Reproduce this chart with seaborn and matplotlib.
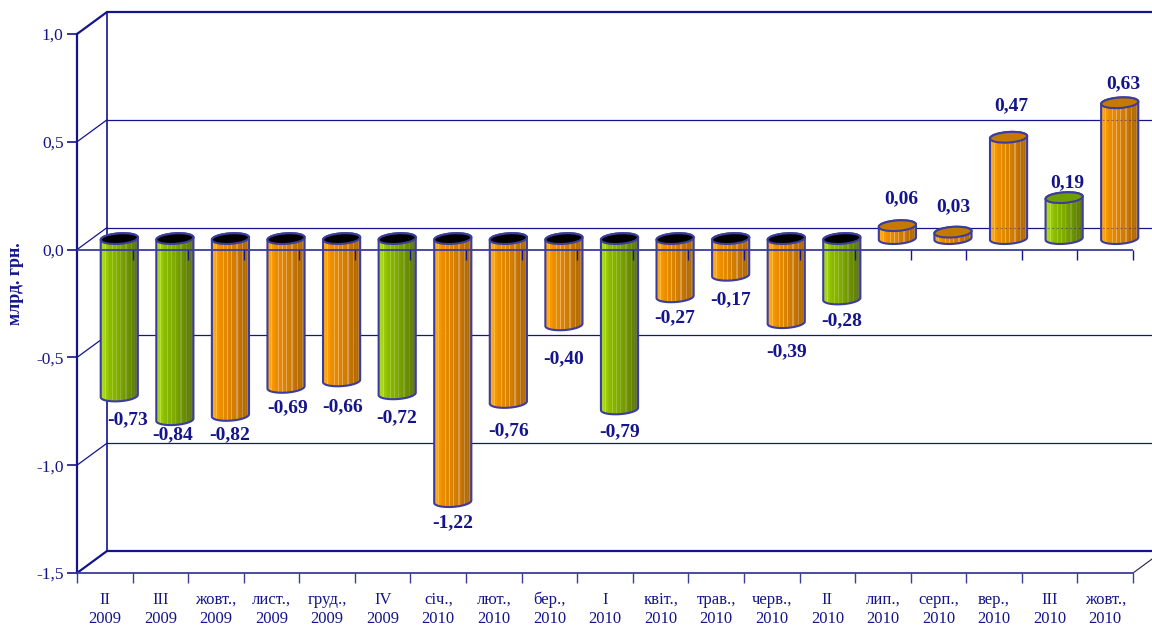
import matplotlib
matplotlib.use('Agg')
import numpy as np
import pandas as pd
import matplotlib.pyplot as plt
import seaborn as sns
from matplotlib.patches import Ellipse, PathPatch
from matplotlib.path import Path
from matplotlib.transforms import IdentityTransform

# chart values
periods = ['II\n2009', 'III\n2009', 'жовт.,\n2009', 'лист.,\n2009', 'груд.,\n2009', 'IV\n2009',
           'січ.,\n2010', 'лют.,\n2010', 'бер.,\n2010', 'I\n2010', 'квіт.,\n2010', 'трав.,\n2010',
           'черв.,\n2010', 'II\n2010', 'лип.,\n2010', 'серп.,\n2010', 'вер.,\n2010', 'III\n2010',
           'жовт.,\n2010']
values = [-0.73, -0.84, -0.82, -0.69, -0.66, -0.72, -1.22, -0.76, -0.40, -0.79, -0.27, -0.17,
          -0.39, -0.28, 0.06, 0.03, 0.47, 0.19, 0.63]
kinds = ['q', 'q', 'm', 'm', 'm', 'q', 'm', 'm', 'm', 'q', 'm', 'm', 'm', 'q', 'm', 'm', 'm', 'q', 'm']
y_ticks = [-1.5, -1.0, -0.5, 0.0, 0.5, 1.0]

# hand placed value labels, pixels away from the bar end
label_dx = [8, -2, -1, 2, 1, 0, 0, 0, 0, 0, 0, 0, 0, 0, 4, 0, 3, 3, 4]
label_dy = [-24, -15, -19, -20, -26, -24, -21, -28, -34, -23, -21, -24, -29, -22, 27, 25, 32, 15, 19]

NAVY = '#14148c'
EDGE = '#3c3c9c'
colours = {'q': '#8cb400', 'm': '#e88c00'}
caps = {'q': '#6f9e00', 'm': '#c47a00'}
# left to right shading of the cylinders, with the pale stripes
shade = {
    'q': ['#b0dc28', '#a8d820', '#a4d418', '#b8e038', '#98c808', '#90c000', '#8cbc00', '#88b800',
          '#a4c830', '#84b400', '#84b000', '#9cc030', '#80ac00', '#7ca800', '#90b038', '#78a400',
          '#749c00', '#749800', '#88a430', '#6c9400', '#6c9000', '#688c00', '#7c9430', '#648400',
          '#688028', '#607818', '#6c7c38', '#5c7420'],
    'm': ['#ffb020', '#ffa818', '#ffa410', '#ffb840', '#f89800', '#f09000', '#ec8e00', '#e88c00',
          '#f0ac48', '#e48800', '#e08800', '#ecb060', '#dc8400', '#d88000', '#e4a858', '#d47e00',
          '#d07c00', '#cc7a00', '#d89c50', '#c87800', '#c47400', '#c07000', '#c89048', '#b86c00',
          '#b87410', '#ac6c10', '#b88840', '#a86810'],
}

# depth of the fake 3D box in pixels
DEPTH_X, DEPTH_Y = 30, 22
BAR_SHIFT_X, BAR_SHIFT_Y = 14.5, 11
CAP_H, CAP_ANGLE = 10.5, 4

sns.set_theme(style='white')
plt.rcParams['font.family'] = ['Liberation Serif', 'DejaVu Serif']

df = pd.DataFrame({'period': periods, 'value': values, 'kind': kinds, 'pos': range(len(values))})

fig = plt.figure(figsize=(11.52, 6.26), dpi=100)
ax = fig.add_axes([77 / 1152, 53 / 626, 1056 / 1152, 539 / 626])
sns.barplot(data=df, x='pos', y='value', hue='kind', palette=colours, dodge=False, width=0.67,
            legend=False, ax=ax, zorder=3, linewidth=0)
ax.set_xlim(-0.5, 18.5)
ax.set_ylim(-1.5, 1.0)
ax.set_xlabel('')
ax.set_ylabel('')

# front plane axes
for side in ['top', 'right']:
    ax.spines[side].set_visible(False)
ax.spines['left'].set_color(NAVY)
ax.spines['left'].set_linewidth(1.6)
ax.spines['bottom'].set_color(EDGE)
ax.spines['bottom'].set_linewidth(1.3)
ax.set_yticks(y_ticks)
ax.set_yticklabels([f'{v:.1f}'.replace('.', ',') for v in y_ticks], fontsize=12.5, color=NAVY)
ax.set_xticks(range(len(periods)))
ax.set_xticklabels(periods, fontsize=12, color=NAVY, linespacing=1.27)
ax.set_xticks(np.arange(-0.5, 19), minor=True)
ax.tick_params(axis='x', which='major', length=0, pad=36)
ax.tick_params(axis='x', which='minor', length=7.2, width=1, color=EDGE, direction='out', bottom=True)
ax.tick_params(axis='y', which='major', length=7.2, width=1.2, color=NAVY, pad=2.5, left=True)
for lab in ax.get_xticklabels():
    lab.set_verticalalignment('baseline')

# back wall and the side wall, in pixels from the data scale
to_px = ax.transData.transform
for v in y_ticks:
    x0, y0 = to_px((-0.5, v))
    heavy = v in (y_ticks[0], y_ticks[-1])
    lw = 1.6 if heavy else 0.9
    ax.plot([x0, x0 + DEPTH_X], [y0, y0 + DEPTH_Y], color=NAVY, lw=lw, transform=IdentityTransform(),
            clip_on=False, zorder=1)
    x1 = to_px((18.5, v))[0] + DEPTH_X
    ax.plot([x0 + DEPTH_X, x1], [y0 + DEPTH_Y, y0 + DEPTH_Y], color=NAVY, lw=lw,
            transform=IdentityTransform(), clip_on=False, zorder=1)
x0, y_low = to_px((-0.5, -1.5))
y_high = to_px((-0.5, 1.0))[1]
ax.plot([x0 + DEPTH_X] * 2, [y_low + DEPTH_Y, y_high + DEPTH_Y], color=NAVY, lw=1.2,
        transform=IdentityTransform(), clip_on=False, zorder=1)
x_end = to_px((18.5, -1.5))[0]
ax.plot([x_end, x_end + DEPTH_X], [y_low, y_low + DEPTH_Y], color='#222244', lw=0.8,
        transform=IdentityTransform(), clip_on=False, zorder=1)


def ellipse_points(cx, cy, w, h, angle, start, stop):
    t = np.radians(np.linspace(start, stop, 40))
    a = np.radians(angle)
    ex, ey = w / 2 * np.cos(t), h / 2 * np.sin(t)
    return np.column_stack([cx + ex * np.cos(a) - ey * np.sin(a), cy + ex * np.sin(a) + ey * np.cos(a)])


# turn the flat seaborn bars into cylinders
bars = sorted(ax.patches, key=lambda b: b.get_x())
for bar, val, kind, dx, dy in zip(bars, values, kinds, label_dx, label_dy):
    left, _ = to_px((bar.get_x(), 0))
    right, _ = to_px((bar.get_x() + bar.get_width(), 0))
    _, base = to_px((0, 0))
    _, end = to_px((0, val))
    left += BAR_SHIFT_X
    right += BAR_SHIFT_X
    base += BAR_SHIFT_Y
    end += BAR_SHIFT_Y
    w = right - left
    cx = (left + right) / 2
    top, bottom = max(base, end), min(base, end)
    bar.set_visible(False)

    outline = np.vstack([ellipse_points(cx, bottom, w, CAP_H, CAP_ANGLE, 180, 360),
                         ellipse_points(cx, top, w, CAP_H, CAP_ANGLE, 0, 180)])
    body = PathPatch(Path(np.vstack([outline, outline[:1]]), closed=True), facecolor='none', edgecolor=EDGE,
                     lw=1.5, transform=IdentityTransform(), clip_on=False, zorder=3.3)
    ax.add_patch(body)
    grad = np.array([matplotlib.colors.to_rgb(c) for c in shade[kind]])[None, :, :]
    im = ax.imshow(grad, extent=(left, right, bottom - 8, top + 8), aspect='auto', interpolation='nearest',
                   transform=IdentityTransform(), zorder=3.1)
    im.set_clip_box(fig.bbox)
    im.set_clip_path(body.get_path(), IdentityTransform())
    cap = Ellipse((cx, top), w, CAP_H, angle=CAP_ANGLE, facecolor='black' if val < 0 else caps[kind],
                  edgecolor=EDGE, lw=1.5, transform=IdentityTransform(), clip_on=False, zorder=3.5)
    ax.add_patch(cap)

    # back wall lines show faintly through the bars that stand above zero
    if val > 0:
        for v in y_ticks:
            wall_y = to_px((0, v))[1] + DEPTH_Y
            if bottom + 4 < wall_y < top - 4:
                ax.plot([left + 1, right - 1], [wall_y, wall_y], color=NAVY, lw=0.8, ls=(0, (2, 2)), alpha=0.4,
                        transform=IdentityTransform(), clip_on=False, zorder=3.2)

    label = f'{val:.2f}'.replace('.', ',')
    ax.annotate(label, xy=(cx, end), xycoords=IdentityTransform(), xytext=(dx, dy), textcoords='offset pixels',
                ha='center', va='center', fontsize=14, fontweight='bold', color=NAVY, zorder=6,
                annotation_clip=False)

# zero line with its ticks sits over the bars
ax.axhline(0, color=EDGE, lw=1.3, zorder=4)
ax.vlines(np.arange(0.5, 18.6), -0.05, 0, color=NAVY, lw=1, zorder=4, clip_on=False)
ax.set_xlim(-0.5, 18.5)
ax.set_ylim(-1.5, 1.0)

fig.text(15 / 1152, 1 - 284 / 626, 'млрд. грн.', rotation=90, ha='center', va='center', fontsize=13,
         fontweight='bold', color=NAVY)

fig.savefig('out.png', dpi=100, facecolor='white')
